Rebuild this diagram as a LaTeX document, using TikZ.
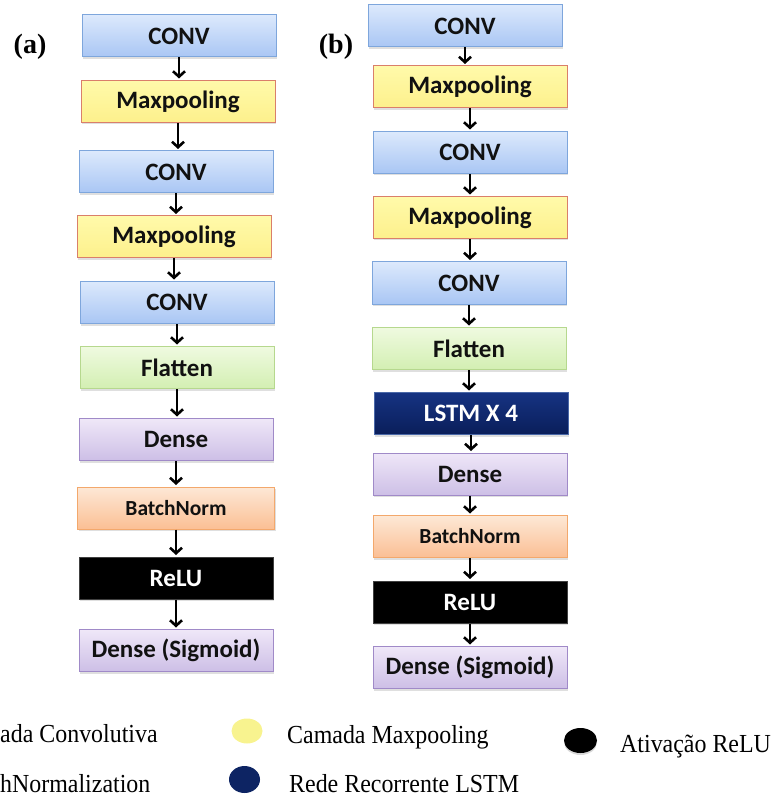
\documentclass[tikz,border=0pt]{standalone}
\usepackage{fontspec}
\setmainfont{Liberation Serif}
\newfontfamily\boxfont{Carlito}
\newfontfamily\legfont[FakeStretch=0.92]{Liberation Serif}
\usetikzlibrary{arrows.meta,shapes.geometric,shadows}

\definecolor{convtop}{HTML}{DCE9FC}
\definecolor{convbot}{HTML}{A9C6F4}
\definecolor{convln}{HTML}{7EA6DC}
\definecolor{pooltop}{HTML}{FFFAAA}
\definecolor{poolbot}{HTML}{FDF08C}
\definecolor{poolln}{HTML}{DA7F6A}
\definecolor{flattop}{HTML}{EFFAE0}
\definecolor{flatbot}{HTML}{D3EFB2}
\definecolor{flatln}{HTML}{B6D88E}
\definecolor{densetop}{HTML}{EFE7F8}
\definecolor{densebot}{HTML}{CDBFE6}
\definecolor{denseln}{HTML}{A08AC8}
\definecolor{bntop}{HTML}{FDE8D6}
\definecolor{bnbot}{HTML}{FBBF94}
\definecolor{bnln}{HTML}{F3A86C}
\definecolor{lstmtop}{HTML}{163382}
\definecolor{lstmbot}{HTML}{0A1E5A}
\definecolor{lstmln}{HTML}{4A68A8}
\definecolor{legyellow}{HTML}{F8F38F}
\definecolor{legnavy}{HTML}{0D2463}
\definecolor{inktext}{HTML}{111111}

\tikzset{
  layer/.style={rectangle, minimum width=194pt, minimum height=42pt,
    line width=1pt, text=inktext, inner sep=0pt,
    font=\boxfont\bfseries\fontsize{25}{29}\selectfont,
    drop shadow={shadow xshift=1pt, shadow yshift=-2pt, opacity=0.25}},
  convbox/.style={layer, draw=convln, top color=convtop, bottom color=convbot},
  poolbox/.style={layer, draw=poolln, top color=pooltop, bottom color=poolbot},
  flatbox/.style={layer, draw=flatln, top color=flattop, bottom color=flatbot},
  densebox/.style={layer, draw=denseln, top color=densetop, bottom color=densebot},
  bnbox/.style={layer, draw=bnln, top color=bntop, bottom color=bnbot,
    font=\boxfont\bfseries\fontsize{21.5}{25}\selectfont},
  relubox/.style={layer, draw=black!75, fill=black, text=white},
  lstmbox/.style={layer, draw=lstmln, top color=lstmtop, bottom color=lstmbot, text=white},
  arr/.style={line width=2.8pt, -{Straight Barb[length=5.5pt,width=12pt,line width=2.6pt]}, shorten >=1.5pt},
  panel/.style={font=\bfseries\fontsize{28}{32}\selectfont},
  legtext/.style={font=\legfont\fontsize{26}{30}\selectfont, inner sep=0pt, anchor=base west},
  legdot/.style={ellipse, inner sep=0pt, minimum width=31pt, minimum height=25pt}
}

\begin{document}
\begin{tikzpicture}[x=1pt,y=-1pt]
\useasboundingbox (0,0) rectangle (771,799);
\clip (0,0) rectangle (771,799);

% panel labels
\node[panel] (la) at (30,47) {(a)};
\node[panel] (lb) at (336,47) {(b)};

% column (a)
\node[convbox]  (a1)  at (179,36)    {CONV};
\node[poolbox]  (a2)  at (178,101.5) {Maxpooling};
\node[convbox]  (a3)  at (176,172)   {CONV};
\node[poolbox]  (a4)  at (174,237)   {Maxpooling};
\node[convbox]  (a5)  at (177,302.5) {CONV};
\node[flatbox]  (a6)  at (177,367.5) {Flatten};
\node[densebox] (a7)  at (176,439.5) {Dense};
\node[bnbox, minimum width=197pt] (a8) at (176,508) {BatchNorm};
\node[relubox]  (a9)  at (176,578)   {ReLU};
\node[densebox] (a10) at (176,650.5) {Dense (Sigmoid)};

% column (b)
\node[convbox]  (b1)  at (465,26)    {CONV};
\node[poolbox]  (b2)  at (470,87)    {Maxpooling};
\node[convbox]  (b3)  at (470,152.5) {CONV};
\node[poolbox]  (b4)  at (470,217.5) {Maxpooling};
\node[convbox]  (b5)  at (469,283)   {CONV};
\node[flatbox]  (b6)  at (469,348.5) {Flatten};
\node[lstmbox]  (b7)  at (471,413.5) {LSTM X 4};
\node[densebox] (b8)  at (470,474)   {Dense};
\node[bnbox]    (b9)  at (470,536.5) {BatchNorm};
\node[relubox]  (b10) at (470,602)   {ReLU};
\node[densebox] (b11) at (470,667.5) {Dense (Sigmoid)};

% connectors
\foreach \u/\v in {a1/a2,a2/a3,a3/a4,a4/a5,a5/a6,a6/a7,a7/a8,a8/a9,a9/a10,
                   b1/b2,b2/b3,b3/b4,b4/b5,b5/b6,b6/b7,b7/b8,b8/b9,b9/b10,b10/b11}
  \draw[arr] (\u.south) -- (\u.south |- \v.north);

% legend
\node[legtext] (t1) at (0,742) {ada Convolutiva};
\node[legdot, fill=legyellow] (d2) at (247,731) {};
\node[legtext] (t2) at (287,743) {Camada Maxpooling};
\node[legdot, fill=black, minimum width=33pt,
      drop shadow={shadow xshift=0pt, shadow yshift=-2pt, opacity=0.3}] (d3) at (580.5,740.5) {};
\node[legtext] (t3) at (620,752) {Ativação ReLU};
\node[legtext] (t4) at (0,792) {hNormalization};
\node[legdot, fill=legnavy, minimum height=27pt] (d5) at (244.5,779.5) {};
\node[legtext] (t5) at (289,792) {Rede Recorrente LSTM};
\end{tikzpicture}
\end{document}
